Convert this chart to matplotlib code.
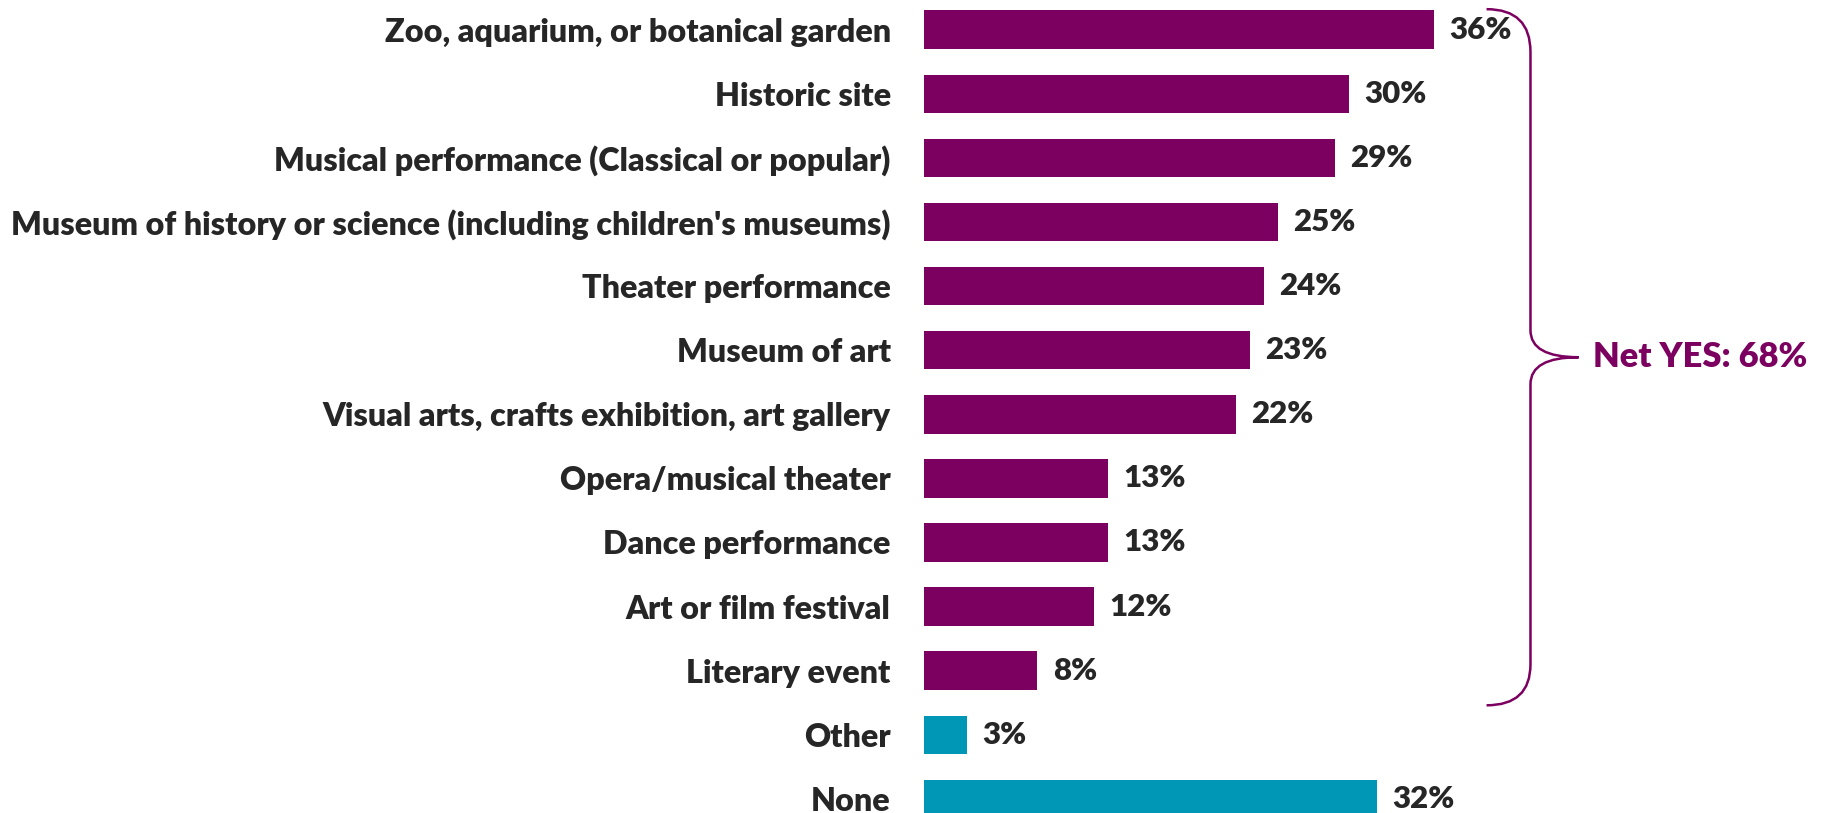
import matplotlib.pyplot as plt
from matplotlib.path import Path
from matplotlib.patches import PathPatch

# Share of respondents who attended each type of event
categories = [
    "Zoo, aquarium, or botanical garden",
    "Historic site",
    "Musical performance (Classical or popular)",
    "Museum of history or science (including children's museums)",
    "Theater performance",
    "Museum of art",
    "Visual arts, crafts exhibition, art gallery",
    "Opera/musical theater",
    "Dance performance",
    "Art or film festival",
    "Literary event",
    "Other",
    "None",
]
values = [36, 30, 29, 25, 24, 23, 22, 13, 13, 12, 8, 3, 32]
groups = ["yes"] * 11 + ["other", "none"]
net_yes = 68

PURPLE = "#7B005F"
TEAL = "#0096B6"
TEXT = "#262626"
colors = {"yes": PURPLE, "other": TEAL, "none": TEAL}
WEIGHT = "heavy"

plt.rcParams["font.family"] = ["Lato", "DejaVu Sans"]

fig = plt.figure(figsize=(18.27, 8.13), dpi=100)
# axes placed so the bars start at ~924px and 1% ~ 14.17px
ax = fig.add_axes([924 / 1827, 0, 40 * 14.17 / 1827, 1])

ypos = list(range(len(categories)))
ax.barh(ypos, values, height=0.6, color=[colors[g] for g in groups])
ax.set_xlim(0, 40)
ax.set_ylim(12.22, -0.463)

ax.set_yticks(ypos)
ax.set_yticklabels(categories, fontsize=23.2, fontweight=WEIGHT, color=TEXT)
ax.tick_params(axis="y", length=0, pad=24)
ax.set_xticks([])
for s in ax.spines.values():
    s.set_visible(False)

for y, v in zip(ypos, values):
    ax.annotate(f"{v}%", (v, y), xytext=(11, 0), textcoords="offset points",
                va="center", ha="left", fontsize=22.5, fontweight=WEIGHT, color=TEXT)

# curly bracket grouping the "yes" answers
top, bot = -0.32, 10.54
mid = (top + bot) / 2
x0, x1, x2 = 39.7, 42.8, 46.2
verts = [
    (x0, top), (x1, top), (x1, top + 0.67),
    (x1, mid - 0.42), (x1, mid), (x2, mid),
    (x1, mid), (x1, mid + 0.42),
    (x1, bot - 0.64), (x1, bot), (x0, bot),
]
codes = [
    Path.MOVETO, Path.CURVE3, Path.CURVE3,
    Path.LINETO, Path.CURVE3, Path.CURVE3,
    Path.CURVE3, Path.CURVE3,
    Path.LINETO, Path.CURVE3, Path.CURVE3,
]
ax.add_patch(PathPatch(Path(verts, codes), fill=False, edgecolor=PURPLE,
                       lw=1.8, clip_on=False))
ax.text(47.2, mid, f"Net YES: {net_yes}%", va="center", ha="left",
        fontsize=24.8, fontweight=WEIGHT, color=PURPLE, clip_on=False)

fig.savefig("out.png", dpi=100)
